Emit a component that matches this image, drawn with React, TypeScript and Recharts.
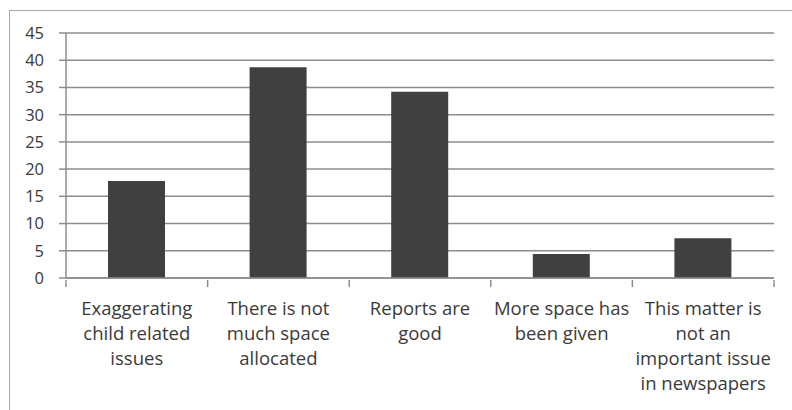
import React from "react";
import { BarChart, Bar, XAxis, YAxis, CartesianGrid } from "recharts";

const categories = [
  "Exaggerating\nchild related\nissues",
  "There is not\nmuch space\nallocated",
  "Reports are\ngood",
  "More space has\nbeen given",
  "This matter is\nnot an\nimportant issue\nin newspapers",
];
const values = [17.8, 38.7, 34.2, 4.4, 7.3];
const yTicks = [0, 5, 10, 15, 20, 25, 30, 35, 40, 45];

const data = categories.map((c, i) => ({ name: c, value: values[i] }));

const FONT = "'Open Sans', sans-serif";
const TEXT = "#3a3a3a";
const GRID = "#8c8c8c";

const CatTick = (props: any) => {
  const { x, y, payload, index, visibleTicksCount } = props;
  const lines = String(payload.value).split("\n");
  const half = payload && typeof payload.offset === "number" ? payload.offset : 0;
  const last = index === (visibleTicksCount ?? categories.length) - 1;
  return (
    <g>
      <line x1={x - half} x2={x - half} y1={y} y2={y + 7} stroke={GRID} strokeWidth={1.5} />
      {last && (
        <line x1={x + half} x2={x + half} y1={y} y2={y + 7} stroke={GRID} strokeWidth={1.5} />
      )}
      <text x={x} y={y} textAnchor="middle" fill={TEXT} fontFamily={FONT} fontSize={18.5}>
        {lines.map((l: string, i: number) => (
          <tspan key={i} x={x} y={y + 35 + i * 25}>
            {l}
          </tspan>
        ))}
      </text>
    </g>
  );
};

export default function App() {
  return (
    <div
      style={{
        position: "absolute",
        left: 0,
        top: 0,
        width: 792,
        height: 410,
        overflow: "hidden",
        background: "#fff",
      }}
    >
      <div
        style={{
          position: "absolute",
          left: 9,
          top: 10,
          width: 900,
          height: 600,
          border: "1.5px solid #aaaaaa",
        }}
      />
      <div style={{ position: "absolute", left: 0, top: 0 }}>
        <BarChart
          width={792}
          height={410}
          data={data}
          margin={{ top: 33, right: 18, bottom: 10, left: 10 }}
          barCategoryGap="20%"
        >
          <CartesianGrid vertical={false} stroke={GRID} strokeWidth={1.5} />
          <XAxis
            dataKey="name"
            interval={0}
            tick={<CatTick />}
            tickLine={false}
            tickSize={0}
            axisLine={{ stroke: GRID, strokeWidth: 1.5 }}
            height={122}
          />
          <YAxis
            domain={[0, 45]}
            ticks={yTicks}
            interval={0}
            width={56}
            tickSize={7}
            tickMargin={15}
            axisLine={{ stroke: GRID, strokeWidth: 1.5 }}
            tickLine={{ stroke: GRID, strokeWidth: 1.5 }}
            tick={{ fill: TEXT, fontFamily: FONT, fontSize: 16.5 }}
          />
          <Bar dataKey="value" fill="#404040" barSize={57} isAnimationActive={false} />
        </BarChart>
      </div>
    </div>
  );
}
